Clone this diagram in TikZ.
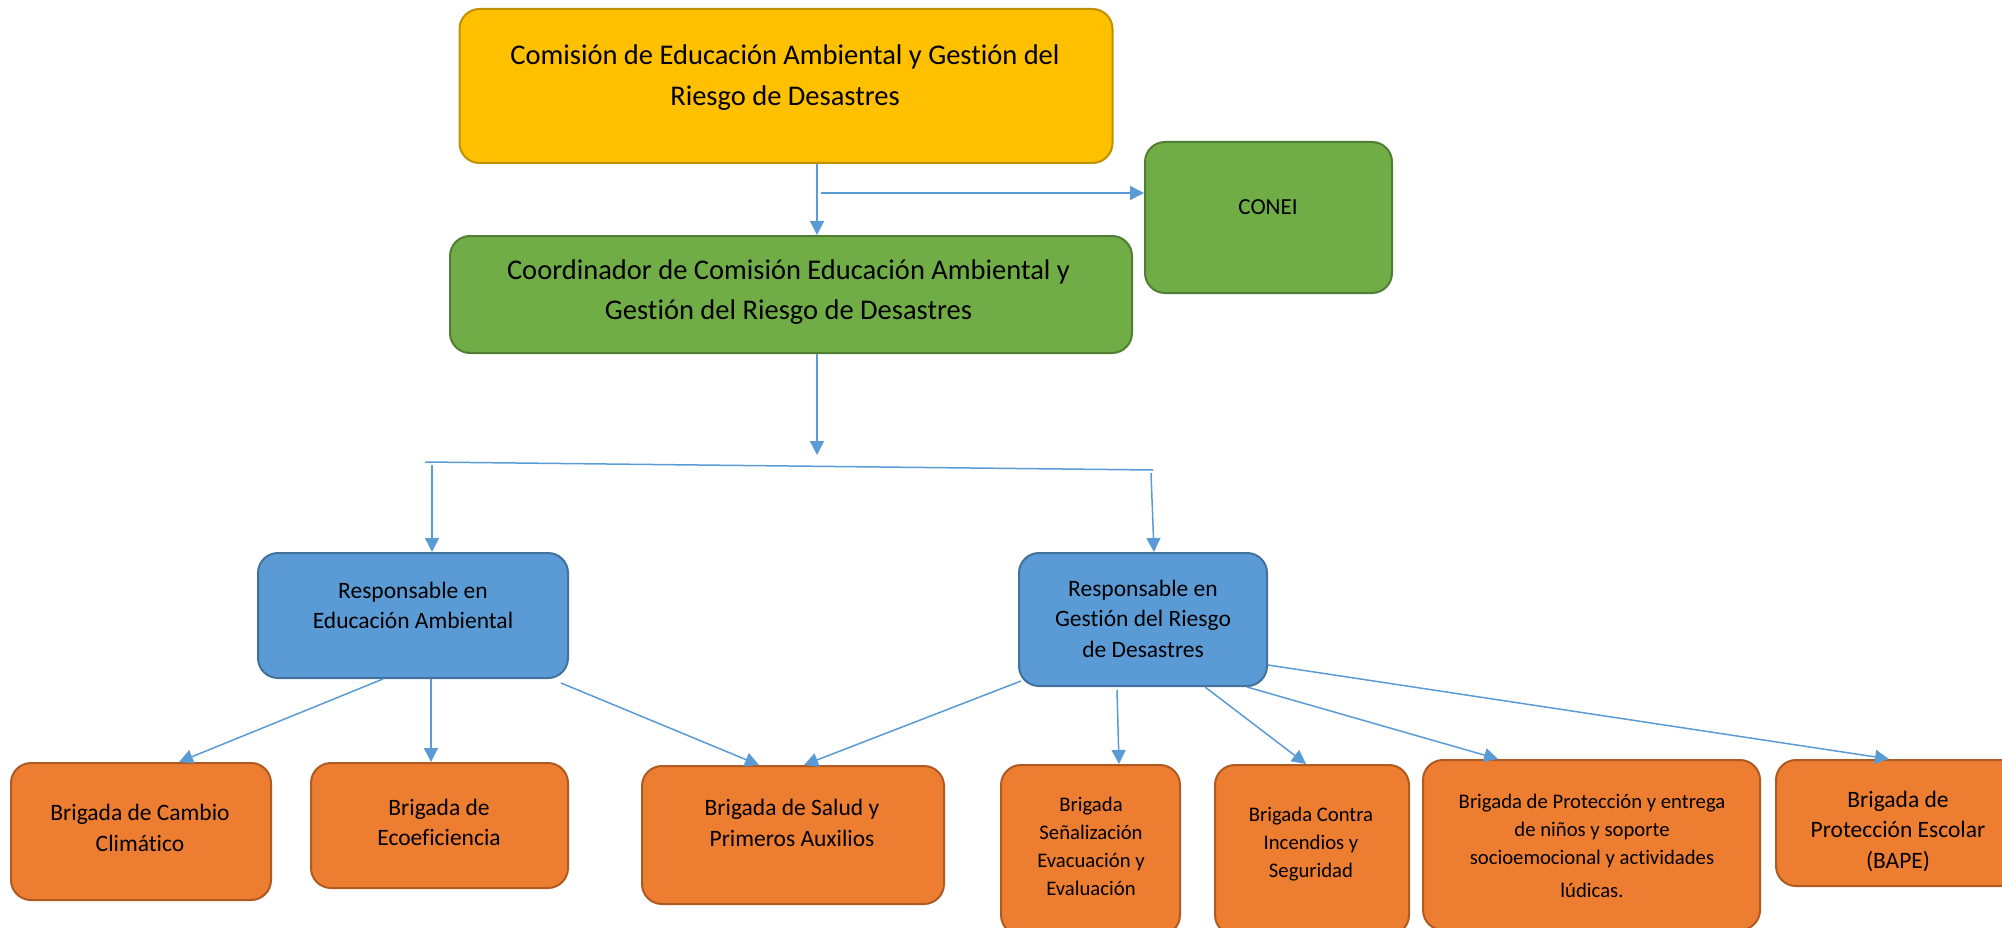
\documentclass[tikz,border=0pt]{standalone}
\usepackage{fontspec}
\setmainfont{Carlito}[Ligatures={NoCommon}]
\usetikzlibrary{arrows.meta,calc}
\definecolor{yel}{HTML}{FFC000}
\definecolor{yelD}{HTML}{C09000}
\definecolor{grn}{HTML}{70AD47}
\definecolor{grnD}{HTML}{507E32}
\definecolor{blu}{HTML}{5B9BD5}
\definecolor{bluD}{HTML}{41719C}
\definecolor{org}{HTML}{ED7D31}
\definecolor{orgD}{HTML}{AE5A21}
\definecolor{lnc}{HTML}{5B9BD5}
\begin{document}
\begin{tikzpicture}[x=1pt,y=-1pt,
  box/.style={draw,line width=2pt,rounded corners=20pt,inner sep=0pt},
  ybox/.style={box,fill=yel,draw=yelD},
  gbox/.style={box,fill=grn,draw=grnD},
  bbox/.style={box,fill=blu,draw=bluD},
  obox/.style={box,fill=org,draw=orgD},
  txt/.style={align=center,inner sep=0pt,text=black},
  big/.style={txt,font=\fontsize{28.5}{40.5}\selectfont},
  mid/.style={txt,font=\fontsize{23.5}{30.5}\selectfont},
  sml/.style={txt,font=\fontsize{20.7}{28}\selectfont},
  arr/.style={draw=lnc,line width=1.5pt,-{Triangle[length=14pt,width=14pt]}},
  ln/.style={draw=lnc,line width=1.5pt}]
\useasboundingbox (0,0) rectangle (2002,928);
\clip (0,0) rectangle (2002,928);

% boxes
\node[ybox,minimum width=653pt,minimum height=154pt] (top) at (786,86) {};
\node[gbox,minimum width=247pt,minimum height=151pt] (conei) at (1268.5,217.5) {};
\node[gbox,minimum width=682pt,minimum height=117pt] (coord) at (791,294.5) {};
\node[bbox,minimum width=310pt,minimum height=125pt] (blueL) at (413,615.5) {};
\node[bbox,minimum width=248pt,minimum height=133pt] (blueR) at (1143,619.5) {};
\node[obox,minimum width=260pt,minimum height=137pt] (b1) at (141,831.5) {};
\node[obox,minimum width=257pt,minimum height=125pt] (b2) at (439.5,825.5) {};
\node[obox,minimum width=302pt,minimum height=138pt] (b3) at (793,835) {};
\node[obox,minimum width=179pt,minimum height=170pt] (b4) at (1090.5,850) {};
\node[obox,minimum width=194pt,minimum height=170pt] (b5) at (1312,850) {};
\node[obox,minimum width=337pt,minimum height=170pt] (b6) at (1591.5,845) {};
\node[obox,minimum width=244pt,minimum height=126pt] (b7) at (1898,823) {};

% texts
\node[big] (topt) at (785,77.5) {Comisión de Educación Ambiental y Gestión del\\Riesgo de Desastres};
\node[big] (coordt) at (788.5,292) {Coordinador de Comisión Educación Ambiental y\\Gestión del Riesgo de Desastres};
\node[txt,font=\fontsize{23}{28}\selectfont] (coneit) at (1268,207) {CONEI};
\node[mid] (blueLt) at (413,605.5) {Responsable en\\Educación Ambiental};
\node[mid] (blueRt) at (1143,618.5) {Responsable en\\Gestión del Riesgo\\de Desastres};
\node[mid] (b1t) at (140,828) {Brigada de Cambio\\Climático};
\node[mid] (b2t) at (439,822.5) {Brigada de\\Ecoeficiencia};
\node[mid] (b3t) at (792,823) {Brigada de Salud y\\Primeros Auxilios};
\node[sml] (b4t) at (1091,846.5) {Brigada\\Señalización\\Evacuación y\\Evaluación};
\node[sml] (b5t) at (1311,844) {Brigada Contra\\Incendios y\\Seguridad};
\node[sml] (b6t) at (1592,846) {Brigada de Protección y entrega\\de niños y soporte\\socioemocional y actividades\\[5pt]lúdicas.};
\node[mid] (b7t) at (1898,831) {Brigada de\\Protección Escolar\\(BAPE)};

% connectors
\coordinate (vx) at (817,0);
\coordinate (cj) at (821,193);
\coordinate (jarr) at (817,455);
\coordinate (hl) at (425,462);
\coordinate (hr) at (1153,470);
\coordinate (ld) at (432,465);
\coordinate (rd) at (1151,473);

\draw[arr] (top.south -| vx) -- (coord.north -| vx);
\draw[arr] (cj) -- (conei.west |- cj);
\draw[arr] (coord.south -| vx) -- (jarr);
\draw[ln] (hl) -- (hr);
\draw[arr] (ld) -- (blueL.north -| ld);
\draw[arr] (rd) -- ([xshift=11pt]blueR.north);

\draw[arr] ([xshift=-30pt]blueL.south) -- ([xshift=38pt]b1.north);
\draw[arr] ([xshift=18pt]blueL.south) -- ([xshift=-8.5pt]b2.north);
\draw[arr] ([xshift=148pt,yshift=-4pt]blueL.south) -- ([xshift=-34pt]b3.north);
\draw[arr] ([xshift=-122pt,yshift=6pt]blueR.south) -- ([xshift=11pt]b3.north);
\draw[arr] ([xshift=-26pt,yshift=-3pt]blueR.south) -- ([xshift=28.5pt]b4.north);
\draw[arr] ([xshift=62pt]blueR.south) -- ([xshift=-6pt]b5.north);
\draw[arr] ([xshift=104pt]blueR.south) -- ([xshift=-93.5pt]b6.north);
\draw[arr] ([yshift=-45.5pt]blueR.east) -- ([xshift=-9pt]b7.north);
\end{tikzpicture}
\end{document}
